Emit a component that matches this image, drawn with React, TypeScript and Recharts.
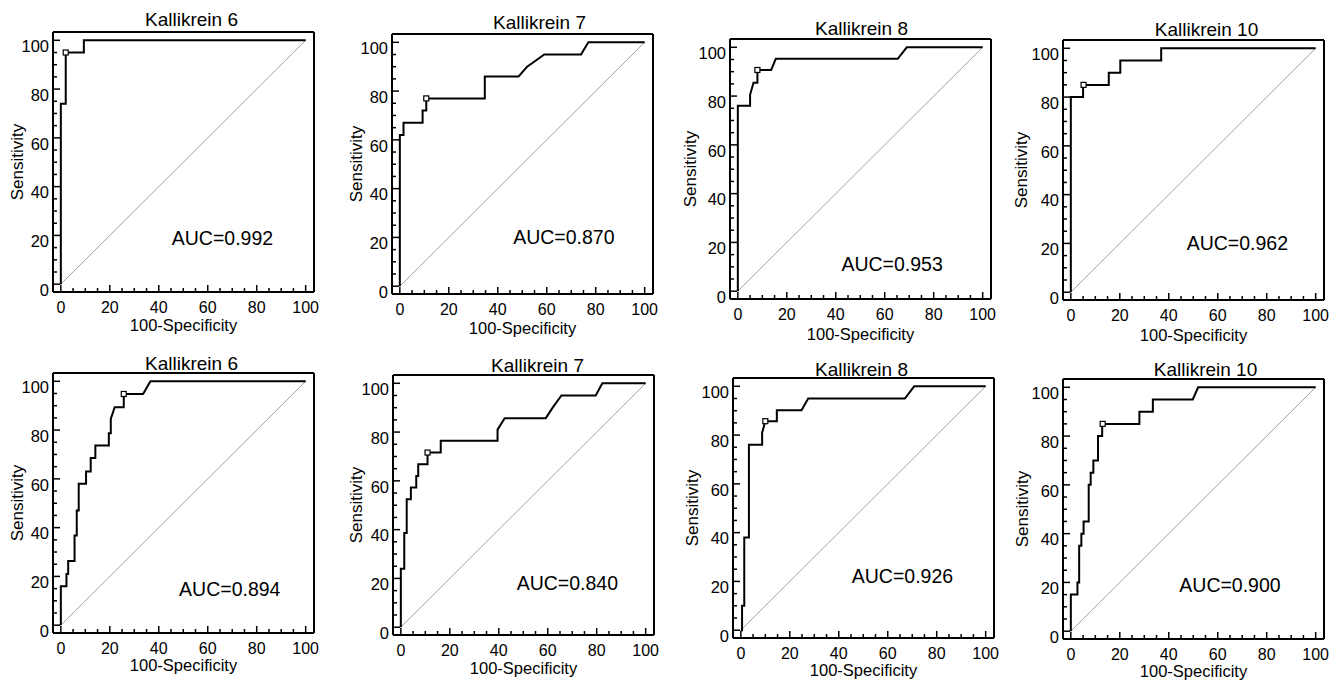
import React from "react"
import { ComposedChart, Line, Scatter, XAxis, YAxis, ReferenceDot } from "recharts"

const FONT = '"Liberation Sans", Arial, Helvetica, sans-serif'

const titles = [
    "Kallikrein 6", "Kallikrein 7", "Kallikrein 8", "Kallikrein 10",
    "Kallikrein 6", "Kallikrein 7", "Kallikrein 8", "Kallikrein 10",
]
const aucLabels = [
    "AUC=0.992", "AUC=0.870", "AUC=0.953", "AUC=0.962",
    "AUC=0.894", "AUC=0.840", "AUC=0.926", "AUC=0.900",
]
const tickValues = [0, 5, 10, 15, 20, 25, 30, 35, 40, 45, 50, 55, 60, 65, 70, 75, 80, 85, 90, 95, 100]

// [100-specificity, sensitivity]
const rocK6a = [[0, 0], [0, 74], [2, 74], [2, 95], [9.4, 95], [9.4, 100], [100, 100]]
const rocK7a = [
    [0, 0], [0, 62], [1.5, 62], [1.5, 67], [9.3, 67], [9.3, 72], [10.8, 72], [10.8, 77],
    [34.7, 77], [34.7, 86], [48.5, 86], [52, 90], [59, 95], [74, 95], [77, 100], [100, 100],
]
const rocK8a = [
    [0, 0], [0, 76], [5, 76], [5, 80.5], [6.4, 85.5], [8, 85.5], [8, 90.7], [13.6, 90.7],
    [15.5, 95.3], [65.3, 95.3], [69, 100], [100, 100],
]
const rocK10a = [
    [0, 0], [0, 80], [5, 80], [5, 85], [15.5, 85], [15.5, 90], [20.2, 90], [20.2, 95],
    [36.9, 95], [36.9, 100], [100, 100],
]
const rocK6b = [
    [0, 0], [0, 16], [2.3, 16], [2.3, 21], [3, 21], [3, 26.3], [5.6, 26.3], [5.6, 36.8],
    [6.5, 36.8], [6.5, 47], [7.3, 47], [7.3, 58], [10.3, 58], [10.3, 63], [12.2, 63], [12.2, 68.5],
    [14.1, 68.5], [14.1, 73.7], [19.6, 73.7], [19.6, 78.7], [20.4, 78.7], [20.4, 84.6], [22, 89.4],
    [25.7, 89.4], [25.7, 94.8], [33.6, 94.8], [36.6, 100], [100, 100],
]
const rocK7b = [
    [0, 0], [0, 24], [1.4, 24], [1.4, 38.6], [2.4, 38.6], [2.4, 52.5], [4.1, 52.5], [4.1, 57.3],
    [6.3, 57.3], [6.3, 62], [7.1, 62], [7.1, 66.8], [10.9, 66.8], [10.9, 71.6], [16.3, 71.6],
    [16.3, 76.4], [39.5, 76.4], [39.5, 81], [42.4, 85.7], [59.2, 85.7], [62, 90], [65.6, 95],
    [79.6, 95], [82.3, 100], [100, 100],
]
const rocK8b = [
    [0, 0], [0.5, 0], [0.5, 10], [1.4, 10], [1.4, 38], [3.3, 38], [3.3, 76], [8.7, 76], [8.7, 81],
    [10, 85.7], [14.7, 85.7], [14.7, 90.2], [24.8, 90.2], [27.5, 95], [67, 95], [70.8, 100], [100, 100],
]
const rocK10b = [
    [0, 0], [0, 15], [2.7, 15], [2.7, 20], [3.4, 20], [3.4, 35], [4.3, 35], [4.3, 40], [5.2, 40],
    [5.2, 45], [7.3, 45], [7.3, 60], [8.1, 60], [8.1, 65], [9.2, 65], [9.2, 70], [11.1, 70],
    [11.1, 80], [12.8, 80], [12.8, 85], [28, 85], [28, 90], [33.5, 90], [33.5, 95], [49.8, 95],
    [52, 100], [100, 100],
]
const rocCurves = [rocK6a, rocK7a, rocK8a, rocK10a, rocK6b, rocK7b, rocK8b, rocK10b]

// optimal cut-off points
const cutoffs = [[2, 95], [10.8, 77], [8, 90.7], [5.2, 85], [25.7, 94.8], [10.9, 71.6], [10, 85.7], [13, 85]]
const chanceLine = [[0, 0], [100, 100]]

// plot box position of each panel on the page; xLabelBase = baseline of the x title below the box
const panels = [
    { left: 53, top: 32, titleDx: 8, titleDy: -12, yLabelDist: 36, xLabelBase: 39, aucAt: [66, 19] },
    { left: 392, top: 34, titleDx: 17, titleDy: -11, yLabelDist: 36, xLabelBase: 39.5, aucAt: [67, 20] },
    { left: 730, top: 39, titleDx: 1, titleDy: -10, yLabelDist: 40, xLabelBase: 41, aucAt: [63, 11] },
    { left: 1063, top: 40, titleDx: 13, titleDy: -10, yLabelDist: 42, xLabelBase: 41, aucAt: [68, 20] },
    { left: 53, top: 373, titleDx: 8, titleDy: -9, yLabelDist: 36, xLabelBase: 38, aucAt: [69, 15] },
    { left: 393, top: 375, titleDx: 14, titleDy: -9, yLabelDist: 37, xLabelBase: 39, aucAt: [68, 18] },
    { left: 733, top: 378, titleDx: -2, titleDy: -8, yLabelDist: 41, xLabelBase: 38, aucAt: [66, 22] },
    { left: 1063, top: 379, titleDx: 12, titleDy: -9, yLabelDist: 41, xLabelBase: 37.5, aucAt: [65, 19] },
]

const PAD_L = 60
const PAD_T = 40
const PAD_R = 12
const PAD_B = 46
const BOX_W = 261
const BOX_H = 260
const DOMAIN: [number, number] = [-3.2, 103.4]

const toPoints = (pairs: number[][]) => pairs.map(([x, y]) => ({ x, y }))

function XTick(props: any) {
    const { x, y, payload } = props
    const major = payload.value % 20 === 0
    return (
        <g>
            <line x1={x} x2={x} y1={y} y2={y - (major ? 7 : 4)} stroke="#000" strokeWidth={1.5} />
            {major && (
                <text x={x} y={y + 15.5} dy="0.35em" textAnchor="middle" fontSize={16} fontFamily={FONT} fill="#000">
                    {payload.value}
                </text>
            )}
        </g>
    )
}

function YTick(props: any) {
    const { x, y, payload } = props
    const major = payload.value % 20 === 0
    return (
        <g>
            <line x1={x} x2={x + (major ? 7 : 4)} y1={y} y2={y} stroke="#000" strokeWidth={1.5} />
            {major && (
                <text x={x - 4} y={y + 6} dy="0.35em" textAnchor="end" fontSize={16.5} fontFamily={FONT} fill="#000">
                    {payload.value}
                </text>
            )}
        </g>
    )
}

function CutoffMark(props: any) {
    const { cx, cy } = props
    return <rect x={cx - 2.5} y={cy - 2.5} width={5} height={5} fill="#fff" stroke="#000" strokeWidth={1.2} />
}

function RocPanel({ index }: { index: number }) {
    const p = panels[index]
    const cut = cutoffs[index]
    return (
        <div style={{ position: "absolute", left: p.left - PAD_L, top: p.top - PAD_T }}>
            <div
                style={{
                    position: "absolute",
                    left: PAD_L + BOX_W / 2 + p.titleDx - 100,
                    top: PAD_T + p.titleDy - 11,
                    width: 200,
                    textAlign: "center",
                    fontSize: 19,
                    lineHeight: "22px",
                    fontFamily: FONT,
                    color: "#000",
                    whiteSpace: "nowrap",
                }}
            >
                {titles[index]}
            </div>
            <ComposedChart
                width={PAD_L + BOX_W + PAD_R}
                height={PAD_T + BOX_H + PAD_B}
                margin={{ top: PAD_T - 1, right: PAD_R - 1, bottom: 0, left: 0 }}
            >
                <XAxis
                    type="number"
                    dataKey="x"
                    domain={DOMAIN}
                    allowDataOverflow
                    ticks={tickValues}
                    interval={0}
                    tick={XTick}
                    tickLine={false}
                    tickSize={0}
                    tickMargin={0}
                    height={PAD_B}
                    axisLine={{ stroke: "#000", strokeWidth: 2 }}
                    label={{
                        value: "100-Specificity",
                        position: "insideBottom",
                        offset: PAD_B - p.xLabelBase,
                        fontSize: 16.5,
                        fill: "#000",
                        fontFamily: FONT,
                    }}
                />
                <YAxis
                    type="number"
                    dataKey="y"
                    domain={DOMAIN}
                    allowDataOverflow
                    ticks={tickValues}
                    interval={0}
                    tick={YTick}
                    tickLine={false}
                    tickSize={0}
                    tickMargin={0}
                    width={PAD_L}
                    axisLine={{ stroke: "#000", strokeWidth: 2 }}
                    label={{
                        value: "Sensitivity",
                        angle: -90,
                        position: "insideLeft",
                        offset: PAD_L - p.yLabelDist,
                        style: { textAnchor: "middle" },
                        fontSize: 17,
                        fill: "#000",
                        fontFamily: FONT,
                    }}
                />
                {/* top and right edges of the frame */}
                <XAxis
                    xAxisId="top"
                    orientation="top"
                    type="number"
                    domain={DOMAIN}
                    allowDataOverflow
                    height={1}
                    tick={false}
                    tickLine={false}
                    axisLine={{ stroke: "#000", strokeWidth: 2 }}
                />
                <YAxis
                    yAxisId="right"
                    orientation="right"
                    type="number"
                    domain={DOMAIN}
                    allowDataOverflow
                    width={1}
                    tick={false}
                    tickLine={false}
                    axisLine={{ stroke: "#000", strokeWidth: 2 }}
                />
                <Line
                    data={toPoints(chanceLine)}
                    dataKey="y"
                    stroke="#8a8a8a"
                    strokeWidth={0.8}
                    dot={false}
                    isAnimationActive={false}
                />
                <Line
                    data={toPoints(rocCurves[index])}
                    dataKey="y"
                    stroke="#000"
                    strokeWidth={2}
                    dot={false}
                    isAnimationActive={false}
                />
                <Scatter data={toPoints([cut])} shape={CutoffMark} isAnimationActive={false} />
                <ReferenceDot
                    x={p.aucAt[0]}
                    y={p.aucAt[1]}
                    r={0}
                    fill="none"
                    stroke="none"
                    label={{ value: aucLabels[index], position: "center", fontSize: 19.5, fill: "#000", fontFamily: FONT }}
                />
            </ComposedChart>
        </div>
    )
}

export default function App() {
    return (
        <div style={{ position: "absolute", left: 0, top: 0, width: 1343, height: 680, background: "#fff" }}>
            {panels.map((_, i) => (
                <RocPanel key={i} index={i} />
            ))}
        </div>
    )
}
